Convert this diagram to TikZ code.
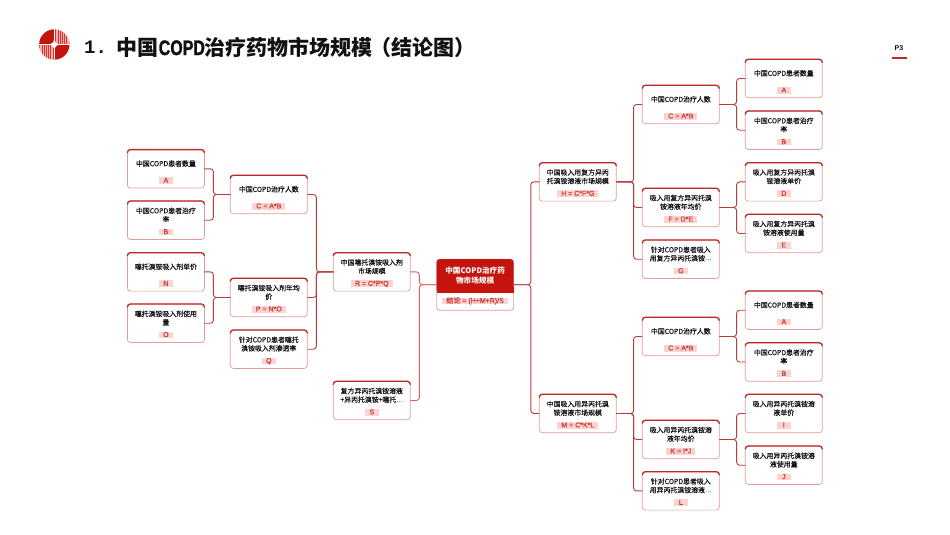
\documentclass[tikz,border=0pt]{standalone}
\usepackage{fontspec}
\setmainfont{Noto Sans CJK SC}
\newfontfamily\bodyf[FakeBold=0.2]{Noto Sans CJK SC}
\newfontfamily\latinf{Liberation Sans}
\newfontfamily\pillf[FakeBold=0.2]{Liberation Sans}
\newfontfamily\monof{Liberation Mono}
\newfontfamily\narrowf[FakeStretch=0.76,FakeBold=1.4]{Liberation Sans}
\definecolor{barred}{HTML}{BE2A26}
\definecolor{edgepink}{HTML}{E39A98}
\definecolor{linedark}{HTML}{B83C3A}
\definecolor{linelight}{HTML}{DE5C5A}
\definecolor{pillpink}{HTML}{FDD3D2}
\definecolor{pilltext}{HTML}{C8352F}
\definecolor{corered}{HTML}{C5140E}
\definecolor{inkc}{HTML}{111111}
\tikzset{
  boxbody/.style={draw=edgepink,fill=white,line width=0.7pt,rounded corners=3pt,minimum width=77pt,minimum height=38.4pt,inner sep=0pt,outer sep=0pt,anchor=north west},
  topbar/.style={draw=barred,line width=1.3pt,rounded corners=3pt,line cap=round},
  ttl/.style={font=\fontsize{6.9}{8.6}\bodyf\selectfont,text=inkc,align=center,inner sep=0pt},
  pill/.style={fill=pillpink,text=pilltext,font=\fontsize{7}{7}\pillf\selectfont,inner xsep=4pt,inner ysep=0pt,minimum width=14pt,minimum height=6.7pt,text height=4.8pt,text depth=0.7pt},
  conn/.style={draw=linedark,line width=0.9pt,rounded corners=3pt},
  connl/.style={conn,draw=linelight},
}
\newcommand{\mybox}[5]{%
  \node[boxbody] (#1) at (#2,#3) {};
  \draw[topbar] ([yshift=-3pt]#1.north west) -- (#1.north west) -- (#1.north east) -- ([yshift=-3pt]#1.north east);
  \node[ttl] (#1-t) at ([yshift=-14pt]#1.north) {#4};
  \node[pill] (#1-f) at ([yshift=-31pt]#1.north) {#5};
}
\newcommand{\lnk}[4]{%
  \coordinate (tk) at (#3,0);
  \draw[#4] (#1.east) -- (#1.east -| tk) -- (#2.west -| tk) -- (#2.west);
}
\newcommand{\dts}{{\latinf …}}
\begin{document}
\begin{tikzpicture}[x=1pt,y=-1pt]
\useasboundingbox (0,0) rectangle (950,535);
\fill[white] (0,0) rectangle (950,535);
% logo
\begin{scope}
  \clip (54.3,44.5) circle (15.2);
  \fill[corered] (39,29) rectangle (53.7,43.9);
  \fill[corered] (54.9,45.1) rectangle (70,60);
  \fill[pillpink!80!red] (54.9,29) rectangle (70,43.9);
  \fill[pillpink!80!red] (39,45.1) rectangle (53.7,60);
  \foreach \i in {0,...,6}{
    \fill[corered!85] (55.4+\i*2.2,29) rectangle +(0.8,15);
    \fill[corered!85] (39.4+\i*2.2,45.1) rectangle +(0.8,15);
  }
\end{scope}
\fill[white] (54.3,38.3) .. controls (54.8,42.5) and (56.3,44) .. (60.5,44.5) .. controls (56.3,45) and (54.8,46.5) .. (54.3,50.7) .. controls (53.8,46.5) and (52.3,45) .. (48.1,44.5) .. controls (52.3,44) and (53.8,42.5) .. (54.3,38.3) -- cycle;
% title
\node[anchor=west,inner sep=0pt,font=\fontsize{19}{24}\monof\bfseries\selectfont,text=inkc] (titlenum) at (84,47) {1.};
\node[anchor=west,inner sep=0pt,font=\fontsize{21}{24}\bfseries\selectfont,text=inkc] (title) at (116.6,47) {中国{\fontsize{21}{24}\narrowf\selectfont COPD}治疗药物市场规模\hspace{-2pt}（结论图）};
\node[inner sep=0pt,font=\fontsize{7}{8}\bfseries\selectfont,text=inkc] (page) at (899,48) {{\latinf P3}};
\draw[barred,line width=1.5pt] (892,57.8) -- (907,57.8);
% left wing
\mybox{la}{127.4}{149.6}{中国COPD患者数量}{A}
\mybox{lb}{127.4}{201}{中国COPD患者治疗\\率}{B}
\mybox{ln}{127.4}{252.7}{噻托溴铵吸入剂单价}{N}
\mybox{lo}{127.4}{304}{噻托溴铵吸入剂使用\\量}{O}
\mybox{lc}{230.3}{175.3}{中国COPD治疗人数}{C = A*B}
\mybox{lp}{230.3}{278.3}{噻托溴铵吸入剂年均\\价}{P = N*O}
\mybox{lq}{230.3}{330}{针对COPD患者噻托\\溴铵吸入剂渗透率}{Q}
\mybox{lr}{333.3}{252.7}{中国噻托溴铵吸入剂\\市场规模}{R = C*P*Q}
\mybox{ls}{333.3}{381.3}{复方异丙托溴铵溶液\\+异丙托溴铵+噻托\dts}{S}
% centre
\node[boxbody,minimum height=51pt] (core) at (436.6,259.2) {};
\fill[corered,rounded corners=3pt] (core.north west) -- (core.north east) -- ([yshift=-33.5pt]core.north east) -- ([yshift=-33.5pt]core.north west) -- cycle;
\fill[corered] ([yshift=-28pt]core.north west) rectangle ([yshift=-33.5pt]core.north east);
\node[ttl,text=white,font=\fontsize{7.6}{9.2}\bfseries\selectfont] (core-t) at ([yshift=-16.3pt]core.north) {中国COPD治疗药\\物市场规模};
\node[pill] (core-f) at ([yshift=-41.8pt]core.north) {{\bodyf 结论} = (H+M+R)/S};
% right wing
\mybox{h}{539.3}{162.7}{中国吸入用复方异丙\\托溴铵溶液市场规模}{H = C*F*G}
\mybox{m}{539.3}{394.3}{中国吸入用异丙托溴\\铵溶液市场规模}{M = C*K*L}
\mybox{c1}{642.3}{85.3}{中国COPD治疗人数}{C = A*B}
\mybox{f}{642.3}{188.3}{吸入用复方异丙托溴\\铵溶液年均价}{F = D*E}
\mybox{g}{642.3}{240}{针对COPD患者吸入\\用复方异丙托溴铵\dts}{G}
\mybox{c2}{642.3}{317.3}{中国COPD治疗人数}{C = A*B}
\mybox{k}{642.3}{420.3}{吸入用异丙托溴铵溶\\液年均价}{K = I*J}
\mybox{l}{642.3}{471.7}{针对COPD患者吸入\\用异丙托溴铵溶液\dts}{L}
\mybox{a1}{745.3}{59.3}{中国COPD患者数量}{A}
\mybox{b1}{745.3}{111}{中国COPD患者治疗\\率}{B}
\mybox{d}{745.3}{162.7}{吸入用复方异丙托溴\\铵溶液单价}{D}
\mybox{e}{745.3}{214.3}{吸入用复方异丙托溴\\铵溶液使用量}{E}
\mybox{a2}{745.3}{291}{中国COPD患者数量}{A}
\mybox{b2}{745.3}{342.8}{中国COPD患者治疗\\率}{B}
\mybox{i}{745.3}{394.3}{吸入用异丙托溴铵溶\\液单价}{I}
\mybox{j}{745.3}{446}{吸入用异丙托溴铵溶\\液使用量}{J}
% connectors
\lnk{la}{lc}{213.4}{conn}
\lnk{lb}{lc}{213.4}{conn}
\lnk{ln}{lp}{213.4}{conn}
\lnk{lo}{lp}{213.4}{conn}
\lnk{lc}{lr}{316.4}{conn}
\lnk{lp}{lr}{316.4}{conn}
\lnk{lq}{lr}{316.4}{conn}
\lnk{lr}{core}{419.4}{connl}
\lnk{ls}{core}{419.4}{connl}
\lnk{core}{h}{530.8}{conn}
\lnk{core}{m}{530.8}{conn}
\lnk{h}{c1}{633.6}{conn}
\lnk{h}{f}{633.6}{conn}
\lnk{h}{g}{633.6}{conn}
\lnk{m}{c2}{633.6}{conn}
\lnk{m}{k}{633.6}{conn}
\lnk{m}{l}{633.6}{conn}
\lnk{c1}{a1}{736.6}{conn}
\lnk{c1}{b1}{736.6}{conn}
\lnk{f}{d}{736.6}{conn}
\lnk{f}{e}{736.6}{conn}
\lnk{c2}{a2}{736.6}{conn}
\lnk{c2}{b2}{736.6}{conn}
\lnk{k}{i}{736.6}{conn}
\lnk{k}{j}{736.6}{conn}
\end{tikzpicture}
\end{document}
